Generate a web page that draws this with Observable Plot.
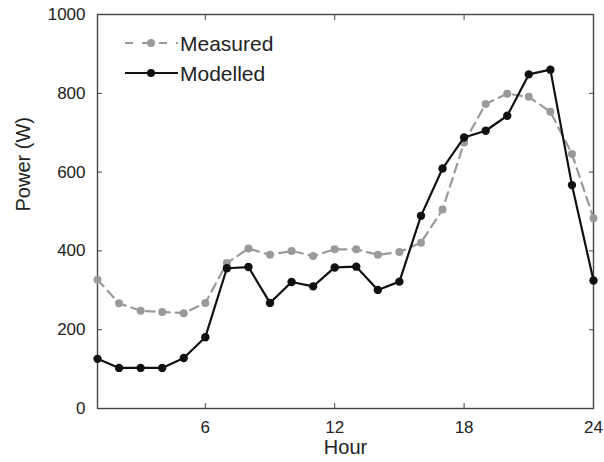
<!DOCTYPE html>
<html>
<head>
<meta charset="utf-8">
<script src="https://cdn.jsdelivr.net/npm/d3@7"></script>
<script src="https://cdn.jsdelivr.net/npm/@observablehq/plot@0.6"></script>
<style>
  html, body { margin: 0; padding: 0; background: #fff; }
  #wrap { position: relative; width: 604px; height: 462px; }
  #legend { position: absolute; left: 0; top: 0; }
</style>
</head>
<body>
<div id="wrap"></div>
<script>
const hours = [1,2,3,4,5,6,7,8,9,10,11,12,13,14,15,16,17,18,19,20,21,22,23,24];
const measured = [327,267,248,245,242,268,369,406,390,400,387,404,404,390,397,421,505,675,773,799,791,753,646,483];
const modelled = [126,103,103,103,128,181,356,359,268,321,310,358,360,301,322,489,609,688,705,743,848,860,567,325];
const seriesNames = ["Measured", "Modelled"];
const xTicks = [6, 12, 18, 24];
const yTicks = [0, 200, 400, 600, 800, 1000];

const gray = "#9a9a9a";
const black = "#111";

const dataM = hours.map((h, i) => ({hour: h, power: measured[i]}));
const dataB = hours.map((h, i) => ({hour: h, power: modelled[i]}));

const font = "'Liberation Sans', Arial, Helvetica, sans-serif";

const chart = Plot.plot({
  width: 604,
  height: 462,
  marginLeft: 97,
  marginRight: 11,
  marginTop: 14,
  marginBottom: 54,
  style: {fontFamily: font, fontSize: "17px", color: "#222", background: "#fff"},
  x: {domain: [1, 24]},
  y: {domain: [0, 1000]},
  marks: [
    Plot.axisX(xTicks, {anchor: "bottom", tickSize: -5, tickPadding: 17, label: null, stroke: "#444", fontSize: 17, tickFormat: d => String(d)}),
    Plot.axisX(xTicks, {anchor: "top", tickSize: -5, tickFormat: () => "", label: null, stroke: "#444"}),
    Plot.axisY(yTicks, {anchor: "left", tickSize: -5, tickPadding: 17, label: null, stroke: "#444", fontSize: 17, tickFormat: d => String(d)}),
    Plot.axisY(yTicks, {anchor: "right", tickSize: -5, tickFormat: () => "", label: null, stroke: "#444"}),
    Plot.frame({stroke: "#444", strokeWidth: 1.4}),
    Plot.line(dataM, {x: "hour", y: "power", stroke: gray, strokeWidth: 2.2, strokeDasharray: "9,6"}),
    Plot.dot(dataM, {x: "hour", y: "power", r: 4, fill: gray, stroke: "none"}),
    Plot.line(dataB, {x: "hour", y: "power", stroke: black, strokeWidth: 2.2}),
    Plot.dot(dataB, {x: "hour", y: "power", r: 4.2, fill: black, stroke: "none"}),
    Plot.text(["Hour"], {frameAnchor: "bottom", dy: 45, fontSize: 20, fill: "#222"}),
    Plot.text(["Power (W)"], {frameAnchor: "left", dx: -74, rotate: -90, fontSize: 20, fill: "#222"})
  ]
});

const wrap = document.getElementById("wrap");
wrap.appendChild(chart);

// legend overlay
const leg = d3.select(wrap).append("svg")
  .attr("id", "legend")
  .attr("width", 604).attr("height", 120)
  .style("font-family", font);
const rows = [
  {name: seriesNames[0], color: gray, dash: true, y: 43},
  {name: seriesNames[1], color: black, dash: false, y: 73}
];
rows.forEach(r => {
  const g = leg.append("g");
  g.append("line").attr("x1", 125).attr("x2", 178).attr("y1", r.y).attr("y2", r.y)
    .attr("stroke", r.color).attr("stroke-width", 2.2)
    .attr("stroke-dasharray", r.dash ? "8,9" : null);
  g.append("circle").attr("cx", 151).attr("cy", r.y).attr("r", 4).attr("fill", r.color);
  g.append("text").attr("x", 180).attr("y", r.y).attr("dy", "0.36em")
    .attr("font-size", 21).attr("fill", "#222").text(r.name);
});
</script>
</body>
</html>
